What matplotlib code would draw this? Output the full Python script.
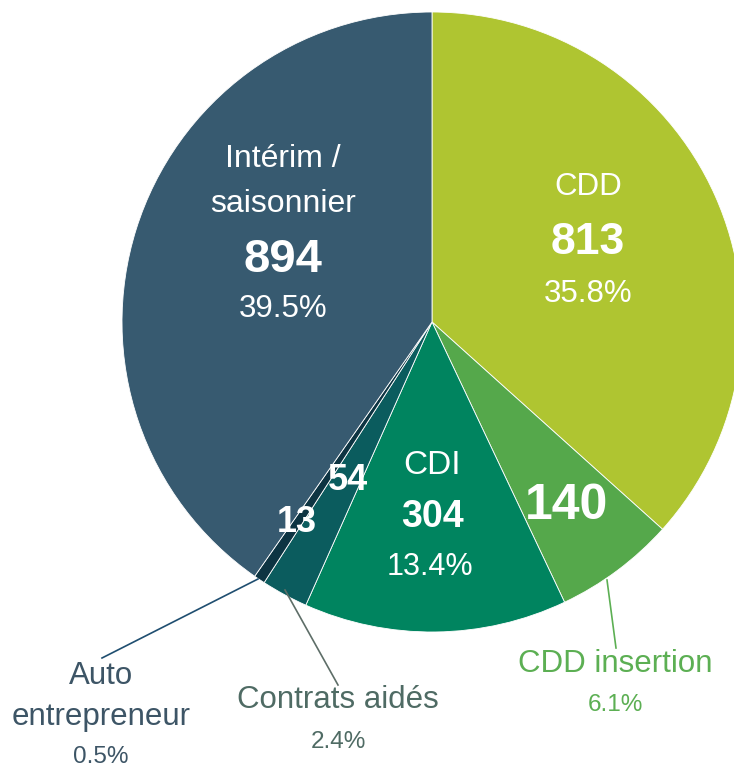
import matplotlib
matplotlib.use("Agg")
import matplotlib.pyplot as plt

categories = ["CDD", "CDD insertion", "CDI", "Contrats aidés", "Auto entrepreneur", "Intérim / saisonnier"]
values = [813, 140, 304, 54, 13, 894]
percents = ["35.8%", "6.1%", "13.4%", "2.4%", "0.5%", "39.5%"]
colors = ["#AFC531", "#55A84B", "#00845F", "#0B5C5E", "#0D3442", "#375A70"]

W, H = 734, 767
plt.rcParams['font.family'] = ['Liberation Sans', 'DejaVu Sans']
fig = plt.figure(figsize=(W / 100, H / 100), dpi=100)
ax = fig.add_axes([0, 0, 1, 1])

def Y(y):
    return H - y

ax.pie(values, colors=colors, startangle=90, counterclock=False,
       center=(432, Y(322)), radius=310, frame=True,
       wedgeprops=dict(edgecolor='white', linewidth=0.6))
ax.set_xlim(0, W)
ax.set_ylim(0, H)
ax.set_aspect('equal')
ax.axis('off')

def t(x, y, s, size, color='white', weight='normal'):
    ax.text(x, Y(y), s, ha='center', va='center', fontsize=size, color=color, fontweight=weight)

# Intérim
t(283, 159, "Intérim /", 23)
t(283, 204, "saisonnier", 23)
t(283, 260, str(values[5]), 34, weight='bold')
t(283, 309, percents[5], 22.5)
# CDD
t(588, 187, "CDD", 22.5)
t(588, 242, str(values[0]), 32, weight='bold')
t(588, 294, percents[0], 22.5)
# CDI
t(432, 466, "CDI", 24)
t(432, 517, str(values[2]), 27, weight='bold')
t(430, 567, percents[2], 22)
# CDD insertion value
t(567, 506, str(values[1]), 36, weight='bold')
# small ones
t(348, 480, str(values[3]), 26, weight='bold')
t(297, 523, str(values[4]), 26, weight='bold')

# outer labels
green = "#5CAF53"
t(615, 664, "CDD insertion", 22.5, color=green)
t(615, 705, percents[1], 17.5, color=green)
ax.plot([607, 616], [Y(580), Y(648)], color=green, lw=1.2)

ca = "#4F6B64"
t(338, 700, "Contrats aidés", 22.5, color=ca)
t(338, 742, percents[3], 17.5, color=ca)
ax.plot([285, 338], [Y(590), Y(685)], color="#5E6E68", lw=1.2)

au = "#3D5566"
t(101, 676, "Auto", 22.5, color=au)
t(101, 717, "entrepreneur", 22.5, color=au)
t(101, 757, percents[4], 17.5, color=au)
ax.plot([258, 102], [Y(579), Y(658)], color="#1F4E70", lw=1.2)

fig.savefig("out.png", dpi=100)
